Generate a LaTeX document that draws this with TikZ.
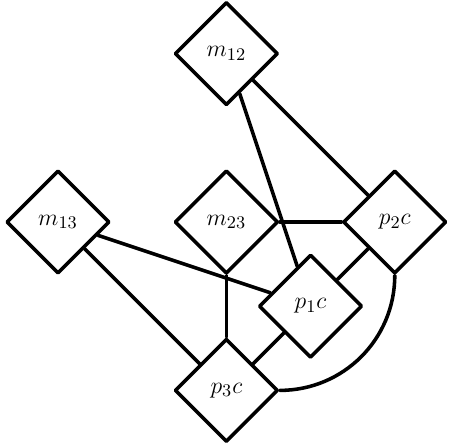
\documentclass[tikz,border=0pt]{standalone}
\usetikzlibrary{shapes.geometric}
\begin{document}
\begin{tikzpicture}[line join=round, line cap=round, line width=1.8pt,
	dia/.style={draw, diamond, aspect=1, inner sep=0pt, minimum width=1.84cm, minimum height=1.84cm, font=\fontsize{12.5}{15}\selectfont}]
				\useasboundingbox (-1.033,-4.009) rectangle (6.984,3.955);
				\node[dia] (m13) at (0,0) {$m_{13}$};
				\node[dia] (m23) at (3,0) {$m_{23}$};
				\node[dia] (p2c) at (6,0) {$p_2c$};
				\node[dia] (m12) at (3,3) {$m_{12}$};
				\node[dia] (p1c) at (4.5,-1.5) {$p_1c$};
				\node[dia] (p3c) at (3,-3) {$p_3c$};
				\foreach \a/\b in {m12/p1c,m12/p2c,m23/p2c,m13/p1c,m13/p3c,p2c/p1c,p1c/p3c} \draw (\a)--(\b);
				\draw (m23.south)--(p3c.north);
				\draw (p2c) to[out=-90,in=0] (p3c);
			\end{tikzpicture}
\end{document}
